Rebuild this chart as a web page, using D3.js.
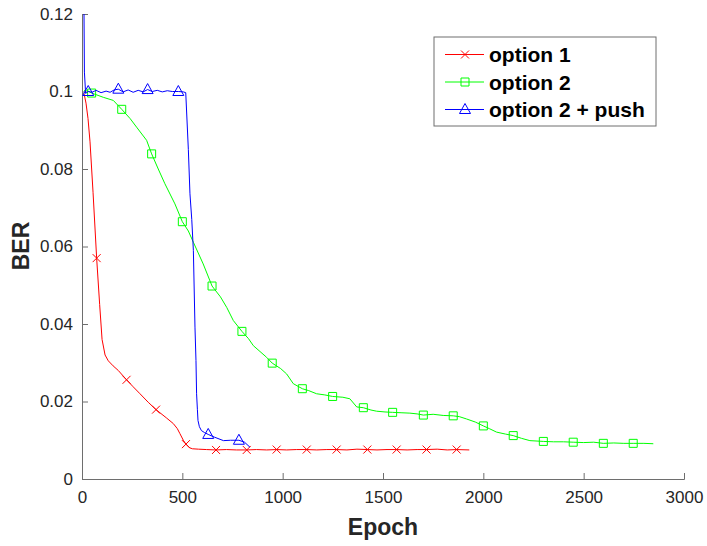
<!DOCTYPE html>
<html>
<head>
<meta charset="utf-8">
<script src="https://cdn.jsdelivr.net/npm/d3@7"></script>
<style>
  body { margin: 0; background: #fff; }
  svg { display: block; font-family: "Liberation Sans", Arial, sans-serif; }
</style>
</head>
<body>
<div id="content"></div>
<script>
// option 1
var redX = [10, 20, 30, 40, 55, 73, 88, 100, 115, 131, 155, 181, 222, 255, 289, 330, 369, 420, 455, 475, 488, 505, 518, 535, 550, 580, 620, 668, 720, 770, 821, 870, 920, 970, 1020, 1070, 1120, 1170, 1220, 1269, 1320, 1370, 1422, 1470, 1520, 1568, 1620, 1670, 1717, 1770, 1820, 1867, 1930];
var redY = [0.0995, 0.097, 0.093, 0.087, 0.074, 0.057, 0.045, 0.036, 0.032, 0.0305, 0.0292, 0.028, 0.0256, 0.0238, 0.0220, 0.0198, 0.0179, 0.0158, 0.0143, 0.0130, 0.0117, 0.0100, 0.0090, 0.0081, 0.0078, 0.0077, 0.0076, 0.0075, 0.0076, 0.0075, 0.0075, 0.0076, 0.0075, 0.0076, 0.0075, 0.0076, 0.0076, 0.0075, 0.0076, 0.0076, 0.0075, 0.0077, 0.0076, 0.0075, 0.0076, 0.0076, 0.0075, 0.0076, 0.0076, 0.0077, 0.0075, 0.0076, 0.0075];
var redMarkX = [73, 222, 369, 518, 668, 821, 970, 1120, 1269, 1422, 1568, 1717, 1867];
var redMarkY = [0.057, 0.0256, 0.0179, 0.0090, 0.0075, 0.0075, 0.0076, 0.0076, 0.0076, 0.0076, 0.0076, 0.0076, 0.0076];

// option 2
var greenX = [10, 23, 48, 80, 106, 156, 198, 240, 272, 322, 347, 380, 413, 463, 500, 530, 555, 604, 648, 690, 721, 754, 797, 830, 854, 920, 948, 990, 1020, 1053, 1098, 1130, 1169, 1210, 1249, 1300, 1335, 1369, 1402, 1440, 1468, 1510, 1548, 1590, 1634, 1670, 1701, 1750, 1800, 1850, 1880, 1916, 1960, 2000, 2030, 2066, 2110, 2149, 2190, 2232, 2299, 2350, 2400, 2448, 2500, 2550, 2598, 2650, 2700, 2747, 2800, 2847];
var greenY = [0.1002, 0.1003, 0.0996, 0.0990, 0.0985, 0.0977, 0.0954, 0.0930, 0.0908, 0.0874, 0.0839, 0.0800, 0.0762, 0.0710, 0.0664, 0.0640, 0.0611, 0.0555, 0.0498, 0.0470, 0.0443, 0.0409, 0.0381, 0.0362, 0.0344, 0.0314, 0.0299, 0.0285, 0.0271, 0.0246, 0.0233, 0.0228, 0.0220, 0.0217, 0.0213, 0.0211, 0.0207, 0.0186, 0.0184, 0.0178, 0.0175, 0.0173, 0.0172, 0.0171, 0.0170, 0.0168, 0.0165, 0.0167, 0.0164, 0.0163, 0.0161, 0.0155, 0.0147, 0.0137, 0.0130, 0.0121, 0.0116, 0.0112, 0.0105, 0.0099, 0.0097, 0.0096, 0.0096, 0.0095, 0.0094, 0.0095, 0.0092, 0.0093, 0.0092, 0.0092, 0.0092, 0.0091];
var greenMarkX = [48, 198, 347, 500, 648, 797, 948, 1098, 1249, 1402, 1548, 1701, 1850, 2000, 2149, 2299, 2448, 2598, 2747];
var greenMarkY = [0.0996, 0.0954, 0.0839, 0.0664, 0.0498, 0.0381, 0.0299, 0.0233, 0.0213, 0.0184, 0.0172, 0.0165, 0.0163, 0.0137, 0.0112, 0.0097, 0.0095, 0.0092, 0.0092];

// option 2 + push
var blueX = [10, 12, 18, 31, 50, 70, 95, 120, 140, 160, 181, 205, 230, 255, 280, 305, 327, 350, 375, 400, 425, 450, 480, 505, 517, 530, 538, 547, 555, 563, 568, 571, 575, 578, 585, 595, 610, 629, 660, 705, 740, 782, 810, 837];
var blueY = [0.1200, 0.1050, 0.0995, 0.1000, 0.0998, 0.1003, 0.0997, 0.1001, 0.0998, 0.1004, 0.1006, 0.0999, 0.1004, 0.0998, 0.1003, 0.0999, 0.1005, 0.1000, 0.1003, 0.0999, 0.1002, 0.1000, 0.1000, 0.0999, 0.0997, 0.0850, 0.0736, 0.0670, 0.0590, 0.0392, 0.0306, 0.0220, 0.0180, 0.0151, 0.0135, 0.0125, 0.0120, 0.0115, 0.0108, 0.0099, 0.0100, 0.0100, 0.0095, 0.0082];
var blueMarkX = [31, 181, 327, 480, 629, 782];
var blueMarkY = [0.1000, 0.1006, 0.1005, 0.1000, 0.0115, 0.0100];

var xTicks = [0, 500, 1000, 1500, 2000, 2500, 3000];
var yTicks = [0, 0.02, 0.04, 0.06, 0.08, 0.1, 0.12];
var seriesNames = ["option 1", "option 2", "option 2 + push"];

var axisColor = "#262626";
var lineGrey = "#6e6e6e";

function zip(xs, ys) {
  return xs.map(function(d, i) { return [d, ys[i]]; });
}

// marker shapes drawn around (0,0)
function markerPath(kind) {
  if (kind == "x") {
    return "M-4,-4L4,4M-4,4L4,-4";
  } else if (kind == "square") {
    return "M-4,-4H4V4H-4Z";
  } else {
    return "M0,-6L5.5,4H-5.5Z";
  }
}

var series = [
  {name: seriesNames[0], color: "#ff0000", marker: "x", line: zip(redX, redY), marks: zip(redMarkX, redMarkY)},
  {name: seriesNames[1], color: "#00ff00", marker: "square", line: zip(greenX, greenY), marks: zip(greenMarkX, greenMarkY)},
  {name: seriesNames[2], color: "#0000ff", marker: "triangle", line: zip(blueX, blueY), marks: zip(blueMarkX, blueMarkY)}
];

var margin = {top: 14, right: 23, bottom: 67, left: 82},
  width = 707 - margin.left - margin.right,
  height = 546 - margin.top - margin.bottom;

var svg = d3.select("div#content").append("svg")
  .attr("width", 707)
  .attr("height", 546)
  .append("g")
  .attr("transform", "translate(" + margin.left + "," + margin.top + ")");

var x = d3.scaleLinear().domain([0, 3000]).range([0, width]);
var y = d3.scaleLinear().domain([0, 0.12]).range([height, 0]);

// axes, ticks pointing inward like matlab
var xAxis = svg.append("g")
  .attr("transform", "translate(0," + height + ")")
  .call(d3.axisBottom(x).tickValues(xTicks).tickSize(-6).tickPadding(12).tickFormat(d3.format("d")));

var yAxis = svg.append("g")
  .call(d3.axisLeft(y).tickValues(yTicks).tickSize(-6).tickPadding(9)
    .tickFormat(function(d) { return d === 0 ? "0" : String(+d.toFixed(2)); }));

[xAxis, yAxis].forEach(function(a) {
  a.select(".domain").attr("stroke", lineGrey).attr("stroke-width", 1);
  a.selectAll(".tick line").attr("stroke", lineGrey).attr("stroke-width", 1);
  a.selectAll(".tick text")
    .attr("fill", axisColor)
    .style("font-size", "17px")
    .style("font-family", "'Liberation Sans', Arial, sans-serif");
});

svg.append("text")
  .attr("x", width / 2)
  .attr("y", height + 56)
  .attr("text-anchor", "middle")
  .style("font-size", "23px")
  .style("font-weight", "bold")
  .attr("fill", axisColor)
  .text("Epoch");

svg.append("text")
  .attr("transform", "rotate(-90)")
  .attr("x", -232)
  .attr("y", -margin.left + 28.5)
  .attr("text-anchor", "middle")
  .style("font-size", "23px")
  .style("font-weight", "bold")
  .attr("fill", axisColor)
  .text("BER");

var valueline = d3.line()
  .x(function(d) { return x(d[0]); })
  .y(function(d) { return y(d[1]); });

series.forEach(function(s) {
  svg.append("path")
    .datum(s.line)
    .attr("d", valueline)
    .attr("fill", "none")
    .attr("stroke", s.color)
    .attr("stroke-width", 1);

  svg.selectAll(".mark-" + s.marker)
    .data(s.marks)
    .enter().append("path")
    .attr("class", "mark-" + s.marker)
    .attr("transform", function(d) { return "translate(" + x(d[0]) + "," + y(d[1]) + ")"; })
    .attr("d", markerPath(s.marker))
    .attr("fill", "none")
    .attr("stroke", s.color)
    .attr("stroke-width", 1);
});

// legend
var legend = svg.append("g")
  .attr("transform", "translate(" + (434 - margin.left) + "," + (37 - margin.top) + ")");

legend.append("rect")
  .attr("width", 222)
  .attr("height", 89)
  .attr("fill", "#fff")
  .attr("stroke", lineGrey)
  .attr("stroke-width", 1);

series.forEach(function(s, i) {
  var ly = 17.5 + i * 27.5;
  legend.append("line")
    .attr("x1", 11).attr("x2", 50)
    .attr("y1", ly).attr("y2", ly)
    .attr("stroke", s.color);
  legend.append("path")
    .attr("transform", "translate(31," + ly + ")")
    .attr("d", markerPath(s.marker))
    .attr("fill", "none")
    .attr("stroke", s.color);
  legend.append("text")
    .attr("x", 55)
    .attr("y", ly + 7.5)
    .style("font-size", "21px")
    .style("font-weight", "bold")
    .attr("fill", "#000")
    .text(s.name);
});
</script>
</body>
</html>
